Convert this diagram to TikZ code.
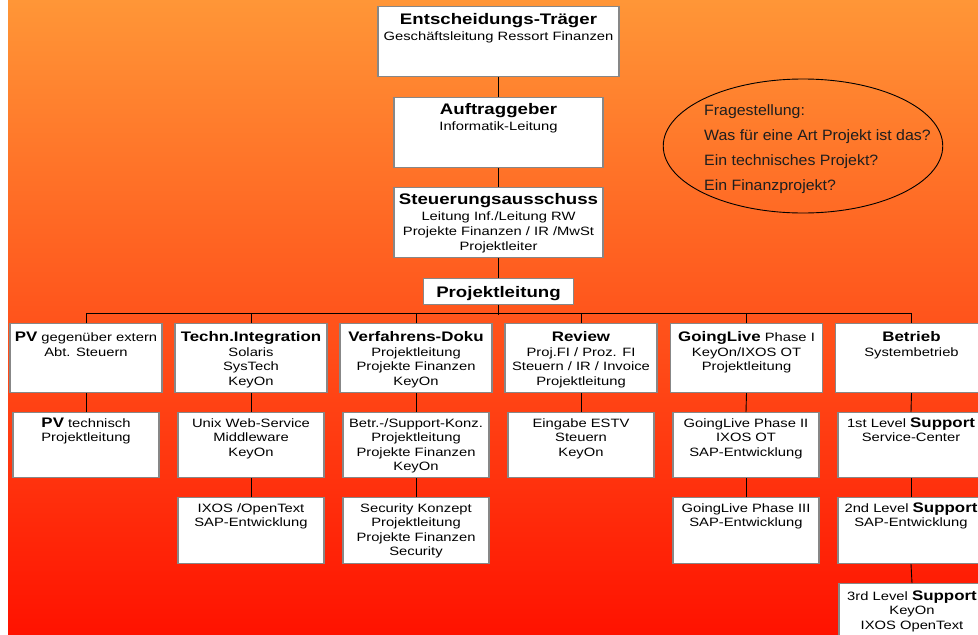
\documentclass[tikz,border=0pt]{standalone}
\usepackage{fontspec}
\setmainfont{Liberation Sans}
\newfontfamily\bxf{Liberation Sans}[FakeStretch=1.22]
\newfontfamily\elf{Liberation Sans}[FakeStretch=1.06]
\usetikzlibrary{shapes.geometric}
\definecolor{bgtop}{RGB}{255,150,55}
\definecolor{bgmid}{RGB}{255,115,45}
\definecolor{bgbot}{RGB}{255,18,0}
\definecolor{boxline}{RGB}{135,135,135}
\definecolor{eltext}{RGB}{30,30,30}
\newcommand\fs{\rule{0pt}{11.5pt}}
\newcommand\ttl[1]{{\bfseries\fontsize{13.85}{14.5}\selectfont #1}}
\newcommand\tttl[1]{{\bfseries\fontsize{15.3}{15}\selectfont #1}}
\tikzset{
  bx/.style={draw=boxline, fill=white, line width=1.1pt, inner sep=0pt, anchor=north},
  tx/.style={anchor=north, align=center, inner sep=0pt, text=black,
    font=\bxf\fontsize{12.1}{14.5}\selectfont},
  ttx/.style={tx, font=\bxf\fontsize{12.1}{15}\selectfont},
  cn/.style={draw=black, line width=0.9pt},
  rowa/.style={bx, minimum width=152pt, minimum height=69pt},
  rowb/.style={bx, minimum width=146pt, minimum height=65pt},
  rowc/.style={bx, minimum width=146pt, minimum height=66pt},
}
\begin{document}
\begin{tikzpicture}[x=1pt,y=-1pt]
\useasboundingbox (0,0) rectangle (978,635);
\clip (0,0) rectangle (978,635);
\fill[white] (0,0) rectangle (978,635);
\shade[top color=bgtop, middle color=bgmid, bottom color=bgbot] (8,0) rectangle (978,635);

% top chain
\node[bx, minimum width=241pt, minimum height=70pt] (ent) at (498.5,6) {};
\node[bx, minimum width=209pt, minimum height=70pt] (auf) at (498.5,97) {};
\node[bx, minimum width=209pt, minimum height=70pt] (steu) at (498.5,187) {};
\node[bx, minimum width=150pt, minimum height=26pt] (pl) at (498.5,278) {};

\node[ttx] (tent) at (498.5,12.5) {\fs\tttl{Entscheidungs-Träger}\\[1pt]Geschäftsleitung Ressort Finanzen};
\node[ttx] (tauf) at (498.5,103) {\fs\tttl{Auftraggeber}\\[1pt]Informatik-Leitung};
\node[ttx] (tsteu) at (498.5,193) {\fs\tttl{Steuerungsausschuss}\\[1pt]Leitung Inf./Leitung RW\\Projekte Finanzen / IR /MwSt\\Projektleiter};
\node[ttx] (tpl) at (498.5,285.5) {\fs\tttl{Projektleitung}};

% row 1
\node[rowa] (a1) at (86,323) {};
\node[rowa] (a2) at (251,323) {};
\node[rowa] (a3) at (416,323) {};
\node[rowa] (a4) at (581,323) {};
\node[rowa] (a5) at (746.5,323) {};
\node[rowa] (a6) at (911.5,323) {};
\node[tx] (ta1) at (86,330.2) {\fs\ttl{PV} gegenüber extern\\Abt. Steuern};
\node[tx] (ta2) at (251,330.2) {\fs\ttl{Techn.Integration}\\Solaris\\SysTech\\KeyOn};
\node[tx] (ta3) at (416,330.2) {\fs\ttl{Verfahrens-Doku}\\Projektleitung\\Projekte Finanzen\\KeyOn};
\node[tx] (ta4) at (581,330.2) {\fs\ttl{Review}\\Proj.FI / Proz. FI\\Steuern / IR / Invoice\\Projektleitung};
\node[tx] (ta5) at (746.5,330.2) {\fs\ttl{GoingLive} Phase I\\KeyOn/IXOS OT\\Projektleitung};
\node[tx] (ta6) at (911.5,330.2) {\fs\ttl{Betrieb}\\Systembetrieb};

% row 2
\node[rowb] (b1) at (86,412) {};
\node[rowb] (b2) at (251,412) {};
\node[rowb] (b3) at (416,412) {};
\node[rowb] (b4) at (581,412) {};
\node[rowb] (b5) at (746,412) {};
\node[rowb] (b6) at (911,412) {};
\node[tx] (tb1) at (86,415.5) {\fs\ttl{PV} technisch\\Projektleitung};
\node[tx] (tb2) at (251,415.5) {\fs Unix Web-Service\\Middleware\\KeyOn};
\node[tx] (tb3) at (416,415.5) {\fs Betr.-/Support-Konz.\\Projektleitung\\Projekte Finanzen\\KeyOn};
\node[tx] (tb4) at (581,415.5) {\fs Eingabe ESTV\\Steuern\\KeyOn};
\node[tx] (tb5) at (746,415.5) {\fs GoingLive Phase II\\IXOS OT\\SAP-Entwicklung};
\node[tx] (tb6) at (911,415.5) {\fs 1st Level \ttl{Support}\\Service-Center};

% row 3
\node[rowc] (c2) at (251,497) {};
\node[rowc] (c3) at (416,497) {};
\node[rowc] (c5) at (746,497) {};
\node[rowc] (c6) at (911,497) {};
\node[tx] (tc2) at (251,500.5) {\fs IXOS /OpenText\\SAP-Entwicklung};
\node[tx] (tc3) at (416,500.5) {\fs Security Konzept\\Projektleitung\\Projekte Finanzen\\Security};
\node[tx] (tc5) at (746,500.5) {\fs GoingLive Phase III\\SAP-Entwicklung};
\node[tx] (tc6) at (911,500.5) {\fs 2nd Level \ttl{Support}\\SAP-Entwicklung};

% row 4
\node[rowc] (d6) at (912,583) {};
\node[tx] (td6) at (912,588.5) {\fs 3rd Level \ttl{Support}\\KeyOn\\IXOS OpenText};

% connectors
\draw[cn] (ent.south) -- (auf.north);
\draw[cn] (auf.south) -- (steu.north);
\draw[cn] (steu.south) -- (pl.north);
\draw[cn] (pl.south) -- ++(0,9.5);
\draw[cn] (a1.north) -- ++(0,-10) -| (a6.north);
\foreach \c in {2,3,4,5} { \draw[cn] (a\c.north) -- ++(0,-10); }
\foreach \c in {1,2,3,4,5,6} { \draw[cn] (a\c.south) -- (b\c.north); }
\foreach \c in {2,3,5,6} { \draw[cn] (b\c.south) -- (c\c.north); }
\draw[cn] (c6.south) -- (d6.north);

% question ellipse
\node[draw=black, line width=0.9pt, ellipse, minimum width=279.5pt, minimum height=134pt, inner sep=0pt] (q) at (803,146) {};
\node[anchor=north west, align=left, inner sep=0pt, text=eltext,
  font=\elf\fontsize{15}{24.8}\selectfont] (qt) at (704,103.7)
  {\rule{0pt}{12pt}Fragestellung:\\Was für eine Art Projekt ist das?\\Ein technisches Projekt?\\Ein Finanzprojekt?};
\end{tikzpicture}
\end{document}
